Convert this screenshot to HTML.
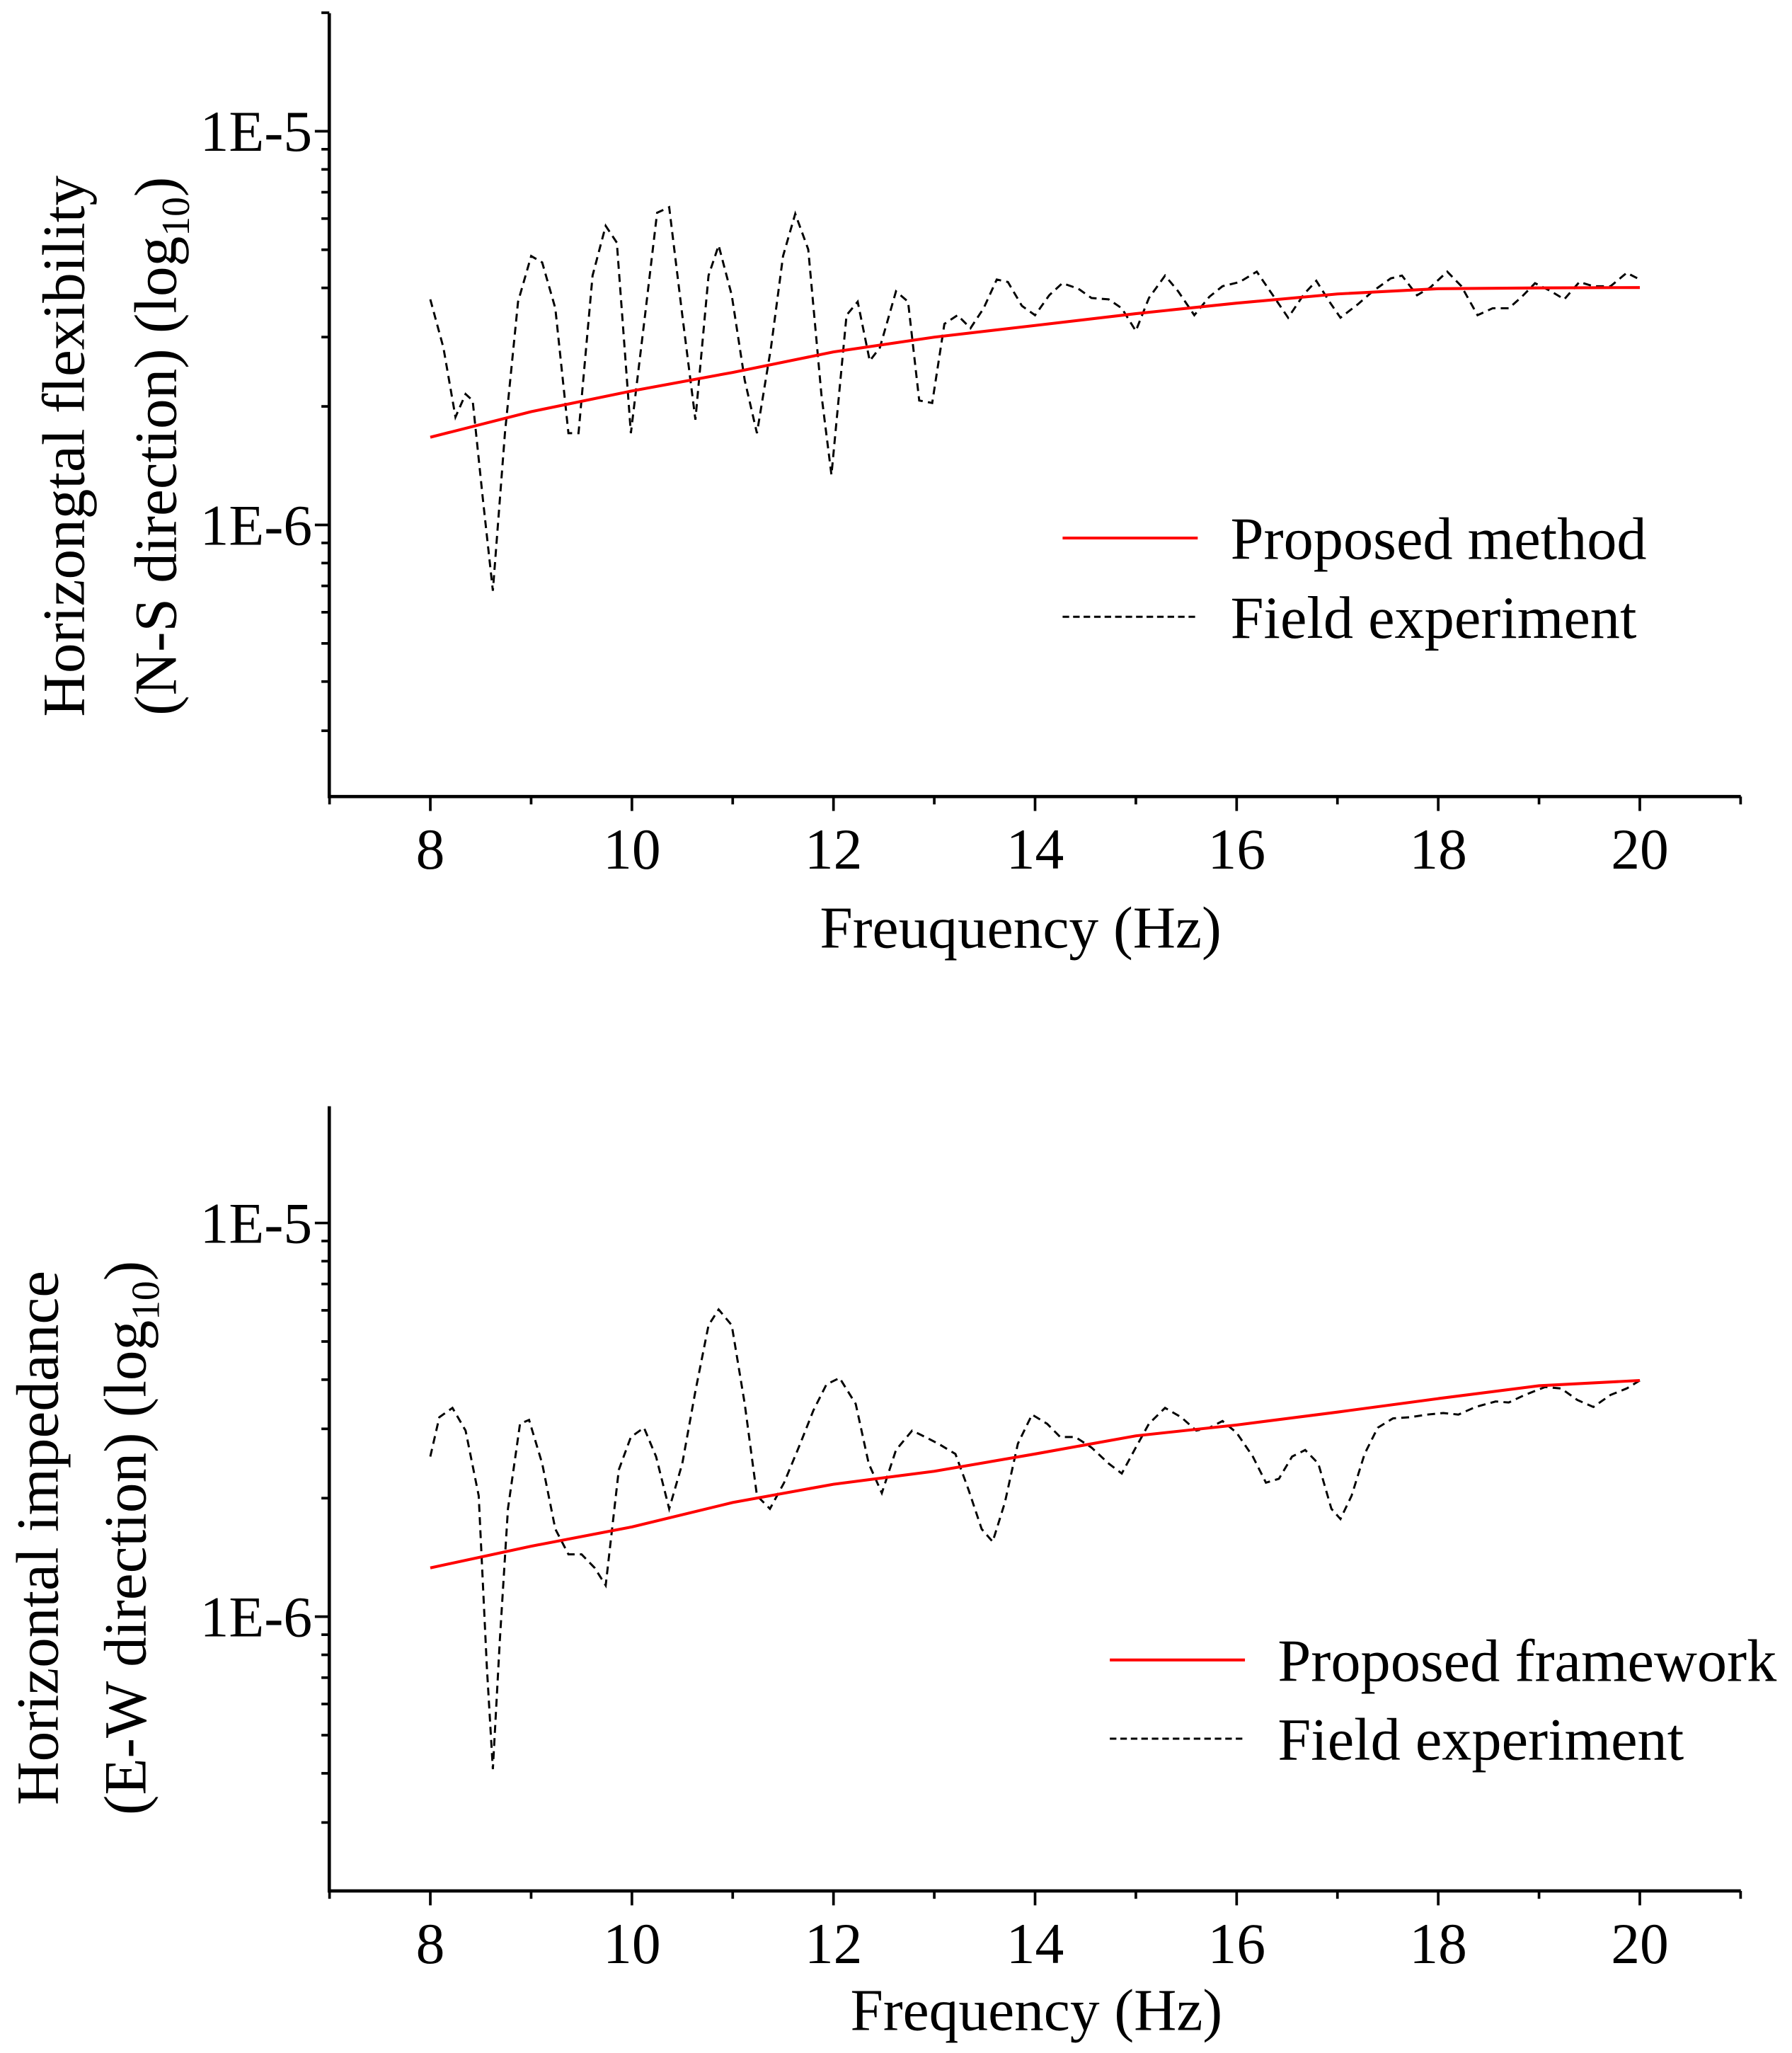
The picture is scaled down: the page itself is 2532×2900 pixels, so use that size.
<!DOCTYPE html>
<html><head><meta charset="utf-8"><style>
html,body{margin:0;padding:0;background:#fff}
svg{display:block}
text{font-family:"Liberation Serif",serif;fill:#000}
</style></head><body>
<svg id="chart" width="2532" height="2900" viewBox="0 0 1366 1564.5" xmlns="http://www.w3.org/2000/svg">
</svg>
<script>
// ---- Top panel data (N-S) ----
const topModelFreq = [8,9,10,11,12,13,14,15,16,17,18,19,20];
const topModelVals = [1.67e-6,1.94e-6,2.19e-6,2.44e-6,2.75e-6,3.0e-6,3.21e-6,3.44e-6,3.66e-6,3.86e-6,3.98e-6,4.0e-6,4.01e-6];
const topFieldFreq = [8.00,8.13,8.25,8.35,8.42,8.52,8.62,8.74,8.87,9.00,9.11,9.24,9.37,9.47,9.61,9.74,9.85,9.99,10.13,10.25,10.37,10.50,10.63,10.76,10.86,10.99,11.12,11.24,11.38,11.50,11.62,11.75,11.88,11.98,12.13,12.24,12.36,12.46,12.62,12.74,12.85,12.98,13.10,13.23,13.36,13.49,13.62,13.73,13.87,14.00,14.14,14.27,14.43,14.56,14.73,14.86,15.00,15.13,15.29,15.42,15.58,15.73,15.86,16.03,16.20,16.36,16.51,16.67,16.79,16.92,17.03,17.20,17.35,17.53,17.64,17.79,17.92,18.09,18.23,18.39,18.54,18.70,18.83,18.96,19.12,19.25,19.40,19.54,19.71,19.87,20.00];
const topFieldVals = [3.74e-6,2.82e-6,1.88e-6,2.15e-6,2.07e-6,1.17e-6,6.8e-7,1.71e-6,3.69e-6,4.82e-6,4.64e-6,3.55e-6,1.71e-6,1.71e-6,4.3e-6,5.75e-6,5.21e-6,1.71e-6,3.41e-6,6.21e-6,6.41e-6,3.41e-6,1.85e-6,4.3e-6,5.13e-6,3.83e-6,2.33e-6,1.71e-6,2.82e-6,4.82e-6,6.17e-6,5.01e-6,2.15e-6,1.34e-6,3.41e-6,3.69e-6,2.61e-6,2.82e-6,3.92e-6,3.69e-6,2.07e-6,2.04e-6,3.24e-6,3.41e-6,3.16e-6,3.55e-6,4.2e-6,4.14e-6,3.6e-6,3.41e-6,3.83e-6,4.11e-6,3.98e-6,3.77e-6,3.74e-6,3.55e-6,3.11e-6,3.77e-6,4.3e-6,3.92e-6,3.41e-6,3.8e-6,4.04e-6,4.14e-6,4.4e-6,3.83e-6,3.36e-6,3.86e-6,4.17e-6,3.69e-6,3.36e-6,3.63e-6,3.92e-6,4.23e-6,4.3e-6,3.83e-6,4.01e-6,4.4e-6,4.04e-6,3.41e-6,3.55e-6,3.55e-6,3.8e-6,4.11e-6,3.92e-6,3.74e-6,4.14e-6,4.04e-6,4.04e-6,4.37e-6,4.2e-6];
// ---- Bottom panel data (E-W) ----
const botModelFreq = [8,9,10,11,12,13,14,15,16,17,18,19,20];
const botModelVals = [1.33e-6,1.51e-6,1.69e-6,1.95e-6,2.17e-6,2.34e-6,2.59e-6,2.88e-6,3.07e-6,3.31e-6,3.58e-6,3.86e-6,3.98e-6];
const botFieldFreq = [8.00,8.09,8.22,8.35,8.48,8.56,8.62,8.69,8.77,8.89,8.98,9.11,9.24,9.37,9.50,9.63,9.74,9.87,9.99,10.12,10.24,10.37,10.50,10.63,10.76,10.86,10.99,11.12,11.24,11.37,11.51,11.67,11.80,11.93,12.06,12.22,12.35,12.48,12.62,12.78,12.91,13.04,13.21,13.34,13.47,13.58,13.70,13.83,13.97,14.12,14.25,14.40,14.56,14.73,14.86,15.00,15.13,15.29,15.45,15.60,15.73,15.86,16.00,16.16,16.29,16.42,16.55,16.68,16.81,16.94,17.03,17.14,17.27,17.40,17.55,17.72,17.89,18.05,18.20,18.37,18.57,18.70,18.86,19.06,19.22,19.38,19.54,19.71,19.87,20.00];
const botFieldVals = [2.55e-6,3.21e-6,3.39e-6,2.97e-6,2.03e-6,7.47e-7,4.1e-7,8.7e-7,1.88e-6,3.09e-6,3.16e-6,2.45e-6,1.67e-6,1.44e-6,1.44e-6,1.33e-6,1.2e-6,2.36e-6,2.86e-6,3.02e-6,2.55e-6,1.88e-6,2.45e-6,3.74e-6,5.5e-6,6.03e-6,5.5e-6,3.47e-6,2.03e-6,1.88e-6,2.19e-6,2.75e-6,3.34e-6,3.89e-6,4.04e-6,3.47e-6,2.45e-6,2.06e-6,2.65e-6,2.97e-6,2.86e-6,2.75e-6,2.59e-6,2.1e-6,1.67e-6,1.55e-6,1.95e-6,2.75e-6,3.26e-6,3.09e-6,2.86e-6,2.86e-6,2.69e-6,2.45e-6,2.31e-6,2.69e-6,3.09e-6,3.39e-6,3.21e-6,2.97e-6,3.02e-6,3.14e-6,2.93e-6,2.55e-6,2.19e-6,2.24e-6,2.55e-6,2.65e-6,2.45e-6,1.88e-6,1.77e-6,2.03e-6,2.59e-6,3.02e-6,3.19e-6,3.21e-6,3.26e-6,3.29e-6,3.26e-6,3.41e-6,3.52e-6,3.5e-6,3.66e-6,3.83e-6,3.8e-6,3.55e-6,3.41e-6,3.66e-6,3.8e-6,3.98e-6];
const xTicks = [8,10,12,14,16,18,20];
const yTickLabels = ["1E-5","1E-6"];

const NS="http://www.w3.org/2000/svg";
const svg=document.getElementById('chart');
function mk(tag,attrs,parent){const e=document.createElementNS(NS,tag);for(const k in attrs)e.setAttribute(k,attrs[k]);(parent||svg).appendChild(e);return e;}
const X0=251.2,PXHZ=76.83;
function xs(f){return X0+(f-7)*PXHZ;}

function panel(o){
  const g=mk('g',{});
  
  
  const ys=v=>o.y1e5+(-5-Math.log10(v))*300;
  const ax=mk('path',{d:`M251,${o.top} V${o.bot} H1327`,fill:'none',stroke:'#000','stroke-width':2.5},g);
  
  
  for(let dec=-7;dec<=-4;dec++){
    for(let m=1;m<=9;m++){
      const v=m*Math.pow(10,dec);const y=ys(v);
      if(y<o.top-0.5||y>o.bot+0.5)continue;
      const len=m===1?11:6;
      const t=mk('line',{x1:251-len,x2:251,y1:y,y2:y,stroke:'#000','stroke-width':2},g);
      
      
    }
  }
  yTickLabels.forEach((lab,i)=>{
    const t=mk('text',{x:238,y:ys(Math.pow(10,-5-i))+15,'text-anchor':'end','font-size':44},g);
    t.textContent=lab;
    
    
  });
  for(let f=7;f<=21;f++){
    const len=(f%2===0)?11:6;
    const t=mk('line',{x1:xs(f),x2:xs(f),y1:o.bot,y2:o.bot+len,stroke:'#000','stroke-width':2},g);
    
    
  }
  xTicks.forEach(f=>{
    const t=mk('text',{x:xs(f),y:o.bot+55,'text-anchor':'middle','font-size':44},g);
    t.textContent=f;
    
    
  });
  const xl=mk('text',{x:o.xlx,y:o.xly,'text-anchor':'middle','font-size':45},g);
  xl.textContent=o.xlabel;
  
  
  o.ylabels.forEach((l,i)=>{
    const t=mk('text',{transform:`translate(${l.x},${o.ylc}) rotate(-90)`,'text-anchor':'middle','font-size':46},g);
    t.innerHTML=l.html;
    
    
  });
  const fd=o.fieldF.map((f,i)=>(i?'L':'M')+xs(f).toFixed(1)+','+ys(o.fieldV[i]).toFixed(1)).join(' ');
  const fp=mk('path',{d:fd,fill:'none',stroke:'#000','stroke-width':1.6,'stroke-dasharray':'6,4'},g);
  
  
  const md=o.modelF.map((f,i)=>(i?'L':'M')+xs(f).toFixed(1)+','+ys(o.modelV[i]).toFixed(1)).join(' ');
  const mp=mk('path',{d:md,fill:'none',stroke:'#ff0000','stroke-width':2.2},g);
  
  
  const lg=mk('g',{},g);
  
  
  const l1=mk('line',{x1:o.lgx,x2:o.lgx+103,y1:o.lgy,y2:o.lgy,stroke:'#ff0000','stroke-width':2.2},lg);
  
  
  const t1=mk('text',{x:o.lgx+128,y:o.lgy+16,'font-size':45.5},lg);
  t1.textContent=o.modelName;
  
  
  const l2=mk('line',{x1:o.lgx,x2:o.lgx+103,y1:o.lgy+60,y2:o.lgy+60,stroke:'#000','stroke-width':1.6,'stroke-dasharray':'5,3'},lg);
  
  
  const t2=mk('text',{x:o.lgx+128,y:o.lgy+76,'font-size':45.5},lg);
  t2.textContent='Field experiment';
  
  
}
panel({name:'top-panel',top:10,bot:607,y1e5:100,modelF:topModelFreq,modelV:topModelVals,fieldF:topFieldFreq,fieldV:topFieldVals,
  xlabel:'Freuquency (Hz)',xlx:778,xly:722,ylc:340,
  ylabels:[{x:64,html:'Horizongtal flexibility'},{x:134,html:'(N-S direction) (log<tspan font-size="30" dy="10">10</tspan><tspan dy="-10">)</tspan>'}],
  lgx:810,lgy:410,modelName:'Proposed method'});
panel({name:'bottom-panel',top:843,bot:1441,y1e5:932,modelF:botModelFreq,modelV:botModelVals,fieldF:botFieldFreq,fieldV:botFieldVals,
  xlabel:'Frequency (Hz)',xlx:790,xly:1547,ylc:1172,
  ylabels:[{x:44,html:'Horizontal impedance'},{x:111,html:'(E-W direction) (log<tspan font-size="30" dy="10">10</tspan><tspan dy="-10">)</tspan>'}],
  lgx:846,lgy:1265,modelName:'Proposed framework'});
</script>
</body></html>
